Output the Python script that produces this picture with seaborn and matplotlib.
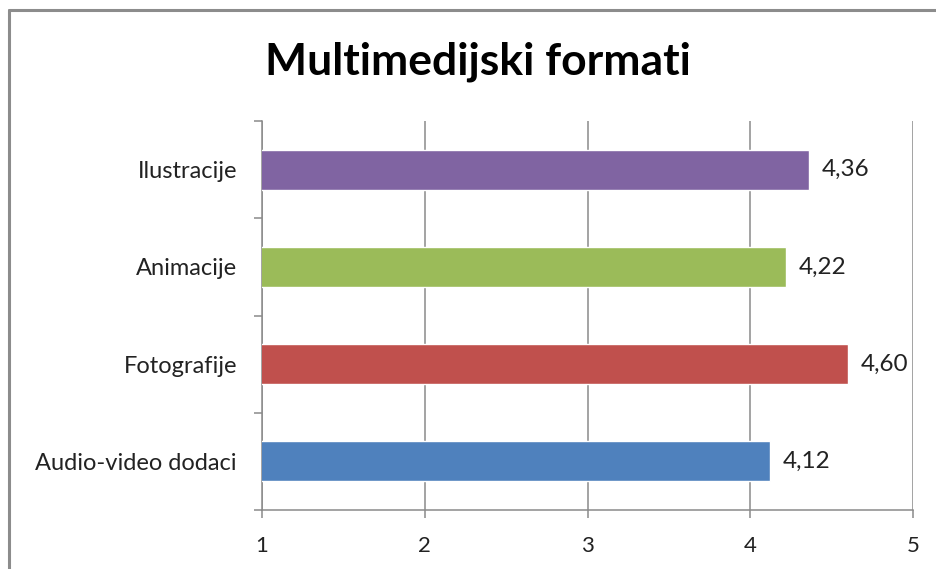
import matplotlib
matplotlib.use("Agg")
import matplotlib.pyplot as plt
from matplotlib.lines import Line2D
from matplotlib.ticker import FixedLocator
import seaborn as sns
import pandas as pd

categories = ["Ilustracije", "Animacije", "Fotografije", "Audio-video dodaci"]
values = [4.36, 4.22, 4.60, 4.12]
colors = ["#8064A2", "#9BBB59", "#C0504D", "#4F81BD"]
x_ticks = [1, 2, 3, 4, 5]
title = "Multimedijski formati"

sns.set_style("white")
plt.rcParams["font.family"] = ["Lato", "DejaVu Sans"]

df = pd.DataFrame({"kategorija": categories, "ocjena": values})

fig = plt.figure(figsize=(9.37, 5.69), dpi=100)
ax = fig.add_axes([262 / 937, 1 - 510 / 569, (913 - 262) / 937, (510 - 121) / 569])

sns.barplot(data=df, x="ocjena", y="kategorija", hue="kategorija",
            palette=colors, legend=False, width=0.41, saturation=1,
            orient="h", ax=ax, zorder=3)

grid_c = "#8a8a8a"
text_c = "#222222"
ax.set_xlim(1, 5)
ax.set_ylim(len(categories) - 0.5, -0.5)
ax.set_xticks(x_ticks)
ax.set_xticklabels([str(t) for t in x_ticks])
ax.xaxis.grid(True, color=grid_c, linewidth=1.1)
ax.set_axisbelow(True)
ax.set_xlabel("")
ax.set_ylabel("")

for side in ("top", "right"):
    ax.spines[side].set_visible(False)
for side in ("left", "bottom"):
    ax.spines[side].set_color(grid_c)
    ax.spines[side].set_linewidth(1.1)

# category labels at bar centres, tick marks at category boundaries
ax.yaxis.set_minor_locator(FixedLocator([i - 0.5 for i in range(len(categories) + 1)]))
ax.tick_params(axis="y", which="major", length=0, pad=18, labelsize=17, labelcolor=text_c)
ax.tick_params(axis="y", which="minor", length=6, width=1.1, color=grid_c, left=True)
ax.tick_params(axis="x", which="major", length=6, width=1.1, color=grid_c, bottom=True,
               pad=13, labelsize=16, labelcolor=text_c)

for i, v in enumerate(values):
    ax.text(v + 0.08, i, f"{v:.2f}".replace(".", ","), va="center", ha="left",
            fontsize=17.5, color=text_c)

fig.text(0.51, 1 - 62 / 569, title, ha="center", va="center",
         fontsize=32, fontweight="bold", color="black")

# frame lines along the left and top edges
fig.add_artist(Line2D([9 / 937, 9 / 937], [0, 1 - 10 / 569], transform=fig.transFigure,
                      color="#8c8c8c", linewidth=2.2))
fig.add_artist(Line2D([9 / 937, 1], [1 - 10 / 569, 1 - 10 / 569], transform=fig.transFigure,
                      color="#8c8c8c", linewidth=2.2))

fig.savefig("out.png", dpi=100, facecolor="white")
